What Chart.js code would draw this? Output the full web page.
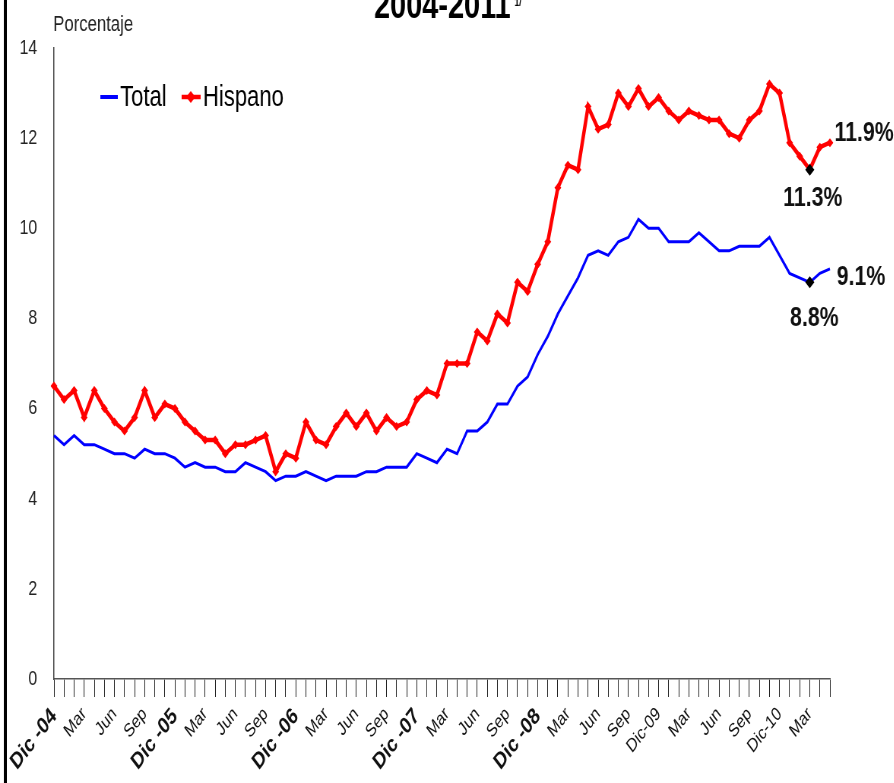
<!DOCTYPE html>
<html>
<head>
<meta charset="utf-8">
<script src="https://cdn.jsdelivr.net/npm/chart.js@4.4.1/dist/chart.umd.min.js"></script>
<style>
  html, body { margin: 0; padding: 0; background: #fff; overflow: hidden; }
  #wrap { width: 894px; height: 783px; overflow: hidden; position: relative; background: #fff; }
  /* the source chart is squeezed sideways, so draw wide and compress */
  #chart { position: absolute; left: 0; top: 0; transform: scaleX(0.76); transform-origin: 0 0; }
</style>
</head>
<body>
<div id="wrap"><canvas id="chart" width="1176" height="783"></canvas></div>
<script>
const months = [
  'Dic-04',
  'Ene-05', 'Feb-05', 'Mar-05', 'Abr-05', 'May-05', 'Jun-05', 'Jul-05', 'Ago-05', 'Sep-05', 'Oct-05', 'Nov-05', 'Dic-05',
  'Ene-06', 'Feb-06', 'Mar-06', 'Abr-06', 'May-06', 'Jun-06', 'Jul-06', 'Ago-06', 'Sep-06', 'Oct-06', 'Nov-06', 'Dic-06',
  'Ene-07', 'Feb-07', 'Mar-07', 'Abr-07', 'May-07', 'Jun-07', 'Jul-07', 'Ago-07', 'Sep-07', 'Oct-07', 'Nov-07', 'Dic-07',
  'Ene-08', 'Feb-08', 'Mar-08', 'Abr-08', 'May-08', 'Jun-08', 'Jul-08', 'Ago-08', 'Sep-08', 'Oct-08', 'Nov-08', 'Dic-08',
  'Ene-09', 'Feb-09', 'Mar-09', 'Abr-09', 'May-09', 'Jun-09', 'Jul-09', 'Ago-09', 'Sep-09', 'Oct-09', 'Nov-09', 'Dic-09',
  'Ene-10', 'Feb-10', 'Mar-10', 'Abr-10', 'May-10', 'Jun-10', 'Jul-10', 'Ago-10', 'Sep-10', 'Oct-10', 'Nov-10', 'Dic-10',
  'Ene-11', 'Feb-11', 'Mar-11', 'Abr-11', 'May-11'
];

// labels shown every third month
const tickLabels = [
  'Dic -04', 'Mar', 'Jun', 'Sep',
  'Dic -05', 'Mar', 'Jun', 'Sep',
  'Dic -06', 'Mar', 'Jun', 'Sep',
  'Dic -07', 'Mar', 'Jun', 'Sep',
  'Dic -08', 'Mar', 'Jun', 'Sep',
  'Dic-09', 'Mar', 'Jun', 'Sep',
  'Dic-10', 'Mar'
];
const boldTicks = ['Dic -04', 'Dic -05', 'Dic -06', 'Dic -07', 'Dic -08'];

const yTicks = [0, 2, 4, 6, 8, 10, 12, 14];

const total = [
  5.4,
  5.2, 5.4, 5.2, 5.2, 5.1, 5.0, 5.0, 4.9, 5.1, 5.0, 5.0, 4.9,
  4.7, 4.8, 4.7, 4.7, 4.6, 4.6, 4.8, 4.7, 4.6, 4.4, 4.5, 4.5,
  4.6, 4.5, 4.4, 4.5, 4.5, 4.5, 4.6, 4.6, 4.7, 4.7, 4.7, 5.0,
  4.9, 4.8, 5.1, 5.0, 5.5, 5.5, 5.7, 6.1, 6.1, 6.5, 6.7, 7.2,
  7.6, 8.1, 8.5, 8.9, 9.4, 9.5, 9.4, 9.7, 9.8, 10.2, 10.0, 10.0,
  9.7, 9.7, 9.7, 9.9, 9.7, 9.5, 9.5, 9.6, 9.6, 9.6, 9.8, 9.4,
  9.0, 8.9, 8.8, 9.0, 9.1
];

const hispano = [
  6.5,
  6.2, 6.4, 5.8, 6.4, 6.0, 5.7, 5.5, 5.8, 6.4, 5.8, 6.1, 6.0,
  5.7, 5.5, 5.3, 5.3, 5.0, 5.2, 5.2, 5.3, 5.4, 4.6, 5.0, 4.9,
  5.7, 5.3, 5.2, 5.6, 5.9, 5.6, 5.9, 5.5, 5.8, 5.6, 5.7, 6.2,
  6.4, 6.3, 7.0, 7.0, 7.0, 7.7, 7.5, 8.1, 7.9, 8.8, 8.6, 9.2,
  9.7, 10.9, 11.4, 11.3, 12.7, 12.2, 12.3, 13.0, 12.7, 13.1, 12.7, 12.9,
  12.6, 12.4, 12.6, 12.5, 12.4, 12.4, 12.1, 12.0, 12.4, 12.6, 13.2, 13.0,
  11.9, 11.6, 11.3, 11.8, 11.9
];

// points called out on the chart
const lowIndex = 75;
const lastIndex = 77;

const FONT = '"Liberation Sans", Arial, sans-serif';
const BLUE = '#0000ff';
const RED = '#ff0000';

const overlay = {
  id: 'overlay',
  afterDraw(chart) {
    const ctx = chart.ctx;
    ctx.save();

    // left frame edge
    ctx.fillStyle = '#000';
    ctx.fillRect(5, 0, 4, 783);

    // title, cut off by the top of the picture
    ctx.fillStyle = '#000';
    ctx.textAlign = 'center';
    ctx.textBaseline = 'alphabetic';
    ctx.font = 'bold 38px ' + FONT;
    ctx.fillText('2004-2011', 582, 18);
    ctx.font = 'bold 11px ' + FONT;
    ctx.textAlign = 'left';
    ctx.fillText('1/', 677, 6);

    // axis title
    ctx.font = '22px ' + FONT;
    ctx.fillStyle = '#222';
    ctx.fillText('Porcentaje', 70, 31);

    // legend
    const ly = 97;
    ctx.lineWidth = 4;
    ctx.strokeStyle = BLUE;
    ctx.beginPath(); ctx.moveTo(132, ly); ctx.lineTo(155, ly); ctx.stroke();
    ctx.font = '29px ' + FONT;
    ctx.fillStyle = '#000';
    ctx.textBaseline = 'middle';
    ctx.fillText('Total', 158, ly + 1);
    ctx.strokeStyle = RED;
    ctx.lineWidth = 4.5;
    ctx.beginPath(); ctx.moveTo(239, ly); ctx.lineTo(264, ly); ctx.stroke();
    ctx.fillStyle = RED;
    ctx.beginPath();
    ctx.moveTo(251, ly - 6); ctx.lineTo(257, ly); ctx.lineTo(251, ly + 6); ctx.lineTo(245, ly);
    ctx.closePath(); ctx.fill();
    ctx.fillStyle = '#000';
    ctx.fillText('Hispano', 267, ly + 1);

    // value callouts
    const tot = chart.getDatasetMeta(0).data;
    const his = chart.getDatasetMeta(1).data;
    ctx.font = 'bold 28px ' + FONT;
    ctx.fillStyle = '#111';
    ctx.textAlign = 'left';
    ctx.fillText(hispano[lastIndex].toFixed(1) + '%', his[lastIndex].x + 6, his[lastIndex].y - 9);
    ctx.fillText(total[lastIndex].toFixed(1) + '%', tot[lastIndex].x + 9, tot[lastIndex].y + 8);
    ctx.textAlign = 'center';
    ctx.fillText(hispano[lowIndex].toFixed(1) + '%', his[lowIndex].x + 4, his[lowIndex].y + 29);
    ctx.fillText(total[lowIndex].toFixed(1) + '%', tot[lowIndex].x + 6, tot[lowIndex].y + 36);

    ctx.restore();
  }
};

const canvas = document.getElementById('chart');

new Chart(canvas, {
  type: 'line',
  data: {
    labels: months,
    datasets: [
      {
        label: 'Total',
        data: total,
        borderColor: BLUE,
        borderWidth: 3,
        tension: 0,
        pointStyle: 'rectRot',
        pointRadius: (c) => c.dataIndex === lowIndex ? 6 : 0,
        pointBackgroundColor: '#000',
        pointBorderWidth: 0,
      },
      {
        label: 'Hispano',
        data: hispano,
        borderColor: RED,
        borderWidth: 4.5,
        tension: 0,
        pointStyle: 'rectRot',
        pointRadius: (c) => c.dataIndex === lowIndex ? 6 : 4.5,
        pointBackgroundColor: (c) => c.dataIndex === lowIndex ? '#000' : RED,
        pointBorderWidth: 0,
      }
    ]
  },
  options: {
    responsive: false,
    animation: false,
    layout: { padding: { top: 48, right: 84, bottom: 0, left: 0 } },
    plugins: {
      legend: { display: false },
      tooltip: { enabled: false },
    },
    scales: {
      x: {
        offset: false,
        afterFit: (scale) => { scale.height = 104; },
        grid: {
          drawOnChartArea: false,
          drawTicks: true,
          tickLength: 18,
          color: '#222',
          lineWidth: 1,
        },
        border: { display: true, color: '#555', width: 1.5 },
        ticks: {
          autoSkip: false,
          minRotation: 45,
          maxRotation: 45,
          padding: 6,
          color: '#111',
          font: (c) => {
            const bold = c.index % 3 === 0 && boldTicks.includes(tickLabels[c.index / 3]);
            return { family: FONT, size: bold ? 23 : 19, weight: bold ? 'bold' : 'normal' };
          },
          callback: (value, index) => index % 3 === 0 ? tickLabels[index / 3] : '',
        },
      },
      y: {
        min: yTicks[0],
        max: yTicks[yTicks.length - 1],
        afterFit: (scale) => { scale.width = 71; },
        afterBuildTicks: (scale) => { scale.ticks = yTicks.map(v => ({ value: v })); },
        grid: { drawOnChartArea: false, drawTicks: false },
        border: { display: true, color: '#444', width: 1.5 },
        ticks: {
          padding: 22,
          color: '#222',
          font: { family: FONT, size: 21 },
        },
      }
    }
  },
  plugins: [overlay],
});
</script>
</body>
</html>
